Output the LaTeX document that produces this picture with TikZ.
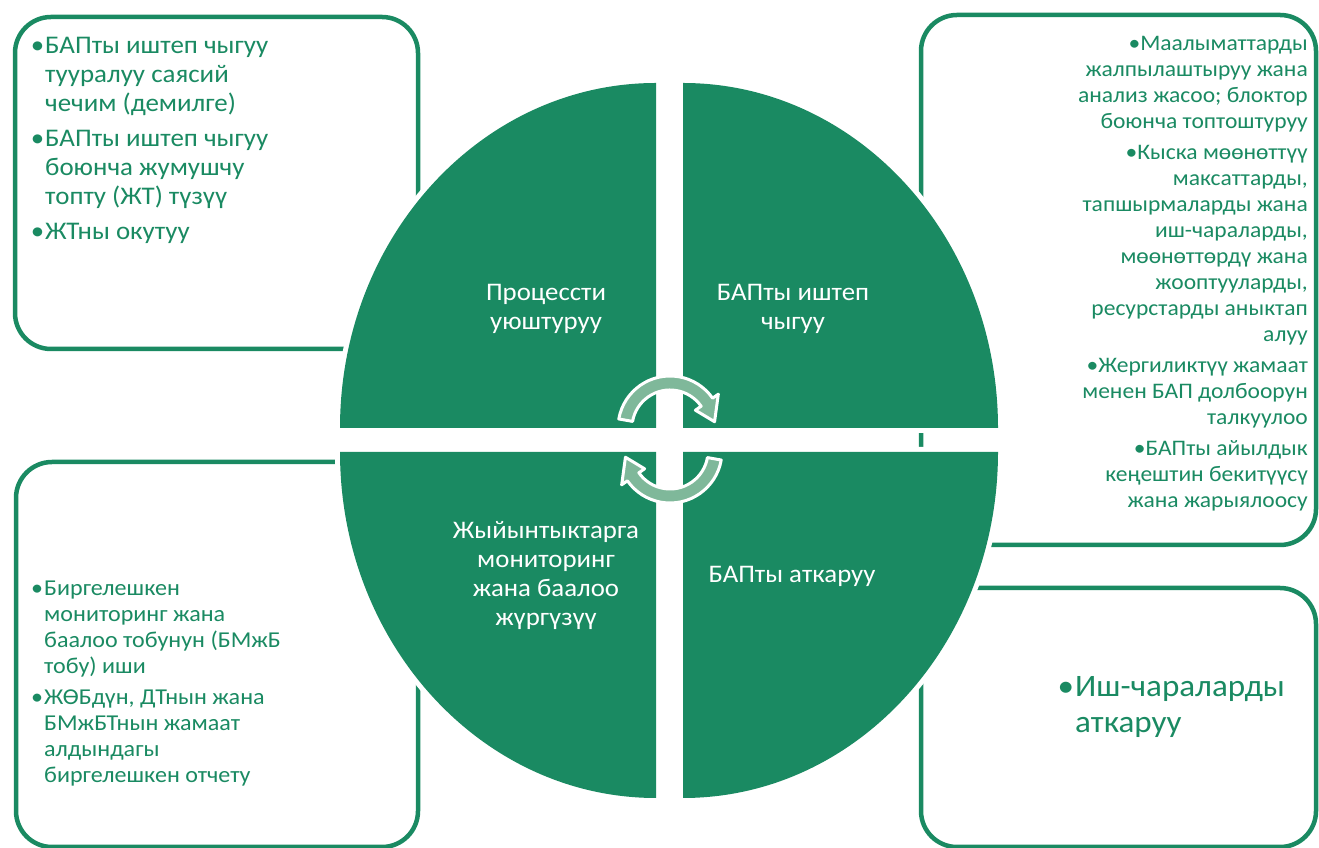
\documentclass[tikz,border=0pt]{standalone}
\usepackage{fontspec}
\setmainfont{Carlito}[FakeStretch=1.06]
\definecolor{bapgreen}{RGB}{26,138,98}
\definecolor{cyclegreen}{RGB}{127,184,154}

\begin{document}
\begin{tikzpicture}[x=1pt, y=1pt, line join=round, line cap=round,
	infobox/.style={draw=bapgreen, line width=4.5pt, rounded corners=36pt, inner sep=0pt},
	quad/.style={fill=bapgreen, preaction={draw=white, line width=10pt}},
	lbl/.style={text=white, align=center, inner sep=0pt, anchor=north, font=\fontsize{25.3}{29}\selectfont},
	notes/.style={text=bapgreen, inner sep=0pt},
	cyc/.style={fill=cyclegreen, draw=white, line width=3pt}]
	\useasboundingbox (0,0) rectangle (1319,848);
	% the four boxes behind the matrix
	\node[infobox, minimum width=403pt, minimum height=332pt] (orgbox) at (216.5,665) {};
	\node[infobox, minimum width=395pt, minimum height=530pt] (devbox) at (1118.5,568) {};
	\node[infobox, minimum width=402pt, minimum height=385pt] (monbox) at (217,193.5) {};
	\node[infobox, minimum width=395pt, minimum height=259pt] (impbox) at (1118.5,130.5) {};
	% quadrants
	\path[quad] (656,420) -- (340,420) arc[start angle=180, end angle=90, x radius=316pt, y radius=345pt] -- cycle;
	\path[quad] (683,420) -- (683,765) arc[start angle=90, end angle=0, x radius=315pt, y radius=345pt] -- cycle;
	\path[quad] (656,396) -- (656,50) arc[start angle=270, end angle=180, x radius=316pt, y radius=346pt] -- cycle;
	\path[quad] (683,396) -- (998,396) arc[start angle=0, end angle=-90, x radius=315pt, y radius=346pt] -- cycle;
	% cycle arrows
	\begin{scope}[shift={(670,420)}]
		\path[cyc] (170:52) arc[start angle=170, end angle=35, radius=52pt] -- (35:59) -- (8:45) -- (35:31) -- (35:38) arc[start angle=35, end angle=170, radius=38pt] -- cycle;
	\end{scope}
	\begin{scope}[shift={(670,397)}]
		\path[cyc] (-10:52) arc[start angle=-10, end angle=-145, radius=52pt] -- (-145:59) -- (-172:45) -- (-145:31) -- (-145:38) arc[start angle=-145, end angle=-10, radius=38pt] -- cycle;
	\end{scope}
	% quadrant labels
	\node[lbl] (organise) at (546,564) {Процессти\\уюштуруу};
	\node[lbl] (develop) at (793,564) {БАПты иштеп\\чыгуу};
	\node[lbl] (monitor) at (546,327) {Жыйынтыктарга\\мониторинг\\жана баалоо\\жүргүзүү};
	\node[lbl] (implement) at (792,282) {БАПты аткаруу};
	% box texts
	\node[notes, anchor=north west, align=left, font=\fontsize{25.4}{29}\selectfont] (orgnotes) at (45,811)
		{\leavevmode\llap{•\kern1pt}БАПты иштеп чыгуу\\тууралуу саясий\\чечим (демилге)\\[6pt]
		\leavevmode\llap{•\kern1pt}БАПты иштеп чыгуу\\боюнча жумушчу\\топту (ЖТ) түзүү\\[6pt]
		\leavevmode\llap{•\kern1pt}ЖТны окутуу};
	\node[notes, anchor=north east, align=right, font=\fontsize{22.2}{26}\selectfont] (devnotes) at (1308,812)
		{•Маалыматтарды\\жалпылаштыруу жана\\анализ жасоо; блоктор\\боюнча топтоштуруу\\[5pt]
		•Кыска мөөнөттүү\\максаттарды,\\тапшырмаларды жана\\иш-чараларды,\\мөөнөттөрдү жана\\жооптууларды,\\ресурстарды аныктап\\алуу\\[5pt]
		•Жергиликтүү жамаат\\менен БАП долбоорун\\талкуулоо\\[5pt]
		•БАПты айылдык\\кеңештин бекитүүсү\\жана жарыялоосу};
	\node[notes, anchor=north west, align=left, font=\fontsize{22.7}{26}\selectfont] (monnotes) at (44,267)
		{\leavevmode\llap{•\kern1pt}Биргелешкен\\мониторинг жана\\баалоо тобунун (БМжБ\\тобу) иши\\[5pt]
		\leavevmode\llap{•\kern1pt}ЖӨБдүн, ДТнын жана\\БМжБТнын жамаат\\алдындагы\\биргелешкен отчету};
	\node[notes, anchor=north west, align=left, font=\fontsize{31.2}{36}\selectfont] (impnotes) at (1075,172)
		{\leavevmode\llap{•\kern1pt}Иш-чараларды\\аткаруу};
\end{tikzpicture}
\end{document}
